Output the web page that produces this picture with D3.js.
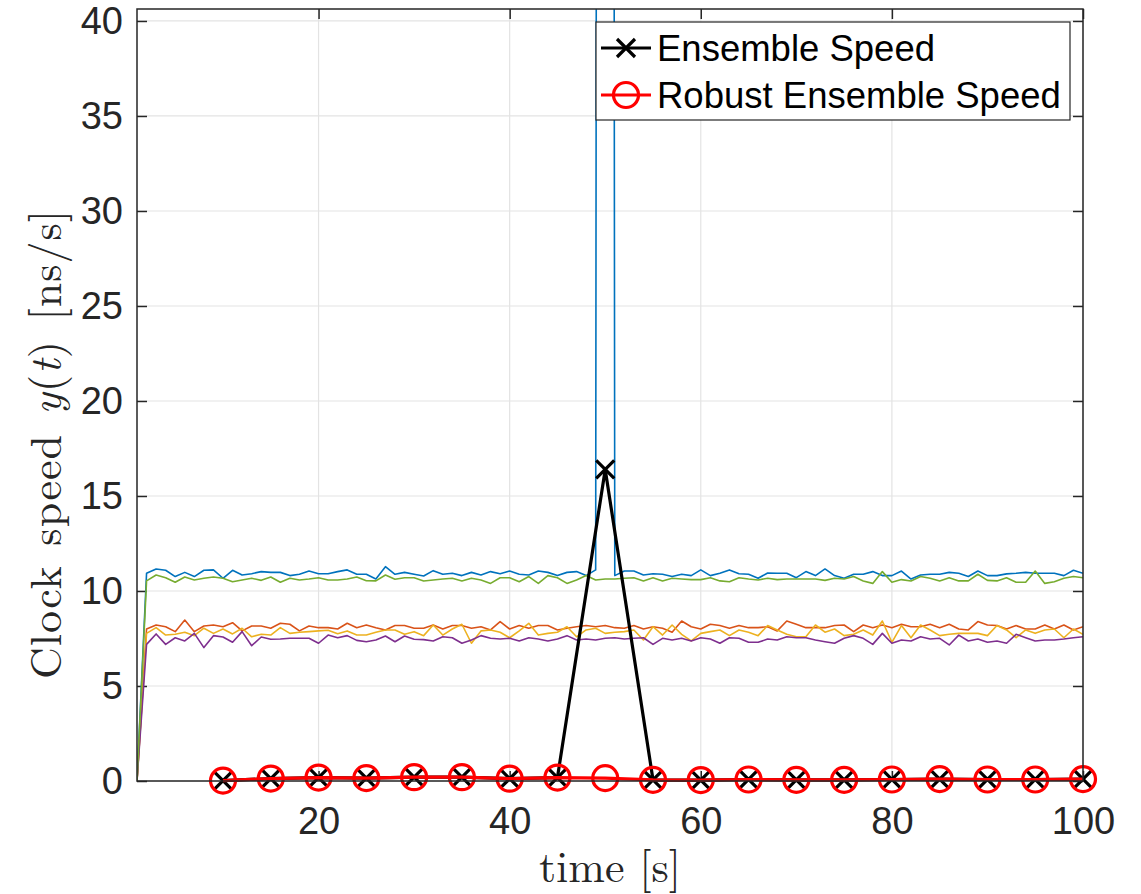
<!DOCTYPE html>
<html>
<head>
<meta charset="utf-8">
<script src="https://cdn.jsdelivr.net/npm/d3@7"></script>
<style>
  body { margin: 0; background: #ffffff; }
  svg { display: block; }
  .tick text { font-family: "Liberation Sans", Arial, Helvetica, sans-serif; fill: #262626; }
</style>
</head>
<body>
<svg id="chart" width="1141" height="894"></svg>
<script>
// Sample instants of the five clocks (one reading per second)
const time = d3.range(1, 101);

// Clock speed of each clock [ns/s]
const clockBlue = [0,
  10.93, 11.16, 11.09, 10.76, 10.98, 10.76, 11.09, 11.11, 10.67, 11.09,
  10.84, 10.91, 11.02, 10.98, 10.98, 10.81, 10.88, 11.05, 10.91, 10.91,
  11.02, 11.11, 10.88, 10.88, 10.63, 11.28, 10.88, 10.98, 10.88, 10.79,
  11.07, 10.88, 10.93, 10.81, 10.98, 10.84, 11.02, 10.91, 11.05, 10.88,
  10.84, 11.05, 10.98, 10.81, 10.98, 11.02, 10.81, 11.11, 500.0, 10.81,
  11.05, 11.05, 10.84, 10.91, 10.88, 10.76, 10.88, 10.81, 11.11, 10.81,
  10.93, 11.11, 10.91, 10.88, 10.67, 10.95, 10.93, 10.93, 10.70, 11.02,
  10.81, 11.16, 10.81, 10.67, 10.88, 10.88, 11.02, 10.81, 10.81, 11.05,
  10.63, 10.84, 10.88, 10.88, 10.98, 10.93, 10.76, 11.05, 10.81, 10.81,
  10.90, 10.93, 10.98, 10.93, 10.93, 10.93, 10.81, 11.09, 10.93];

const clockOrange = [0,
  8.00, 8.21, 8.12, 7.86, 8.47, 7.86, 8.16, 8.21, 8.12, 8.33,
  7.90, 8.16, 8.16, 8.04, 8.30, 8.25, 7.90, 8.16, 8.07, 8.07,
  8.00, 8.30, 8.07, 8.21, 8.07, 7.95, 8.18, 8.18, 8.04, 8.04,
  8.21, 8.00, 8.18, 8.18, 8.04, 8.12, 7.95, 8.39, 8.00, 8.18,
  8.04, 8.18, 8.18, 7.95, 8.04, 8.12, 8.18, 8.12, 8.18, 8.07,
  8.04, 8.18, 8.00, 8.12, 8.04, 7.83, 8.42, 8.12, 8.00, 8.25,
  8.18, 8.04, 8.18, 8.07, 8.07, 8.12, 7.90, 8.42, 8.25, 8.07,
  8.07, 8.07, 8.18, 8.21, 7.86, 8.21, 8.07, 8.21, 8.07, 8.25,
  8.12, 8.12, 8.25, 8.07, 8.25, 8.00, 7.95, 8.39, 8.21, 8.18,
  8.00, 8.18, 8.00, 8.00, 8.21, 8.00, 8.21, 7.95, 8.12];

const clockYellow = [0,
  7.77, 8.07, 7.68, 7.72, 7.83, 7.65, 8.04, 7.77, 8.00, 7.74,
  8.04, 7.59, 7.72, 7.68, 8.07, 7.77, 7.83, 7.86, 7.90, 7.93,
  7.75, 7.90, 7.68, 7.68, 7.83, 7.95, 7.95, 7.72, 7.86, 7.65,
  8.21, 7.68, 8.00, 8.25, 7.25, 7.90, 7.95, 7.83, 7.54, 7.90,
  8.30, 7.68, 7.77, 7.83, 8.12, 7.59, 7.95, 8.04, 7.77, 7.83,
  7.86, 7.95, 7.42, 8.12, 7.68, 8.21, 7.72, 7.37, 7.77, 7.86,
  7.95, 7.65, 7.95, 7.83, 7.65, 8.18, 7.95, 7.72, 7.59, 7.59,
  8.21, 7.83, 8.00, 7.65, 7.72, 7.95, 7.68, 8.42, 7.30, 8.18,
  7.54, 8.21, 7.95, 7.65, 7.72, 7.77, 7.77, 7.77, 7.65, 8.18,
  7.95, 7.54, 7.95, 7.77, 7.95, 8.00, 7.54, 8.00, 7.72];

const clockPurple = [0,
  7.19, 7.74, 7.19, 7.54, 7.37, 7.77, 7.02, 7.65, 7.58, 7.30,
  7.86, 7.12, 7.58, 7.46, 7.47, 7.51, 7.51, 7.51, 7.25, 7.68,
  7.54, 7.65, 7.40, 7.33, 7.42, 7.63, 7.33, 7.63, 7.46, 7.44,
  7.37, 7.59, 7.54, 7.25, 7.42, 7.65, 7.51, 7.47, 7.51, 7.37,
  7.54, 7.47, 7.37, 7.47, 7.65, 7.42, 7.47, 7.42, 7.51, 7.54,
  7.47, 7.51, 7.54, 7.19, 7.51, 7.42, 7.51, 7.37, 7.54, 7.47,
  7.25, 7.54, 7.51, 7.30, 7.30, 7.47, 7.42, 7.59, 7.54, 7.54,
  7.42, 7.33, 7.25, 7.51, 7.65, 7.51, 7.19, 7.77, 7.25, 7.42,
  7.37, 7.59, 7.47, 7.51, 7.16, 7.68, 7.37, 7.47, 7.30, 7.37,
  7.25, 7.72, 7.54, 7.37, 7.42, 7.42, 7.47, 7.54, 7.59];

const clockGreen = [0,
  10.53, 10.84, 10.70, 10.46, 10.74, 10.58, 10.67, 10.74, 10.67, 10.49,
  10.58, 10.67, 10.56, 10.74, 10.46, 10.67, 10.58, 10.63, 10.70, 10.58,
  10.58, 10.63, 10.74, 10.54, 10.53, 10.84, 10.62, 10.70, 10.70, 10.53,
  10.58, 10.63, 10.67, 10.53, 10.67, 10.58, 10.40, 10.70, 10.70, 10.49,
  10.76, 10.40, 10.81, 10.70, 10.40, 10.58, 10.81, 10.58, 10.63, 10.63,
  10.67, 10.70, 10.53, 10.70, 10.53, 10.67, 10.63, 10.60, 10.60, 10.70,
  10.53, 10.49, 10.70, 10.63, 10.58, 10.67, 10.60, 10.63, 10.63, 10.63,
  10.63, 10.56, 10.67, 10.63, 10.76, 10.53, 10.40, 11.02, 10.46, 10.60,
  10.53, 10.76, 10.67, 10.53, 10.70, 10.53, 10.53, 10.88, 10.56, 10.53,
  10.70, 10.46, 10.46, 11.05, 10.40, 10.49, 10.67, 10.76, 10.70];

// Ensemble estimates, every 5 s
const ensembleTime = d3.range(10, 101, 5);
const ensembleSpeed = [0.02, 0.13, 0.18, 0.15, 0.20, 0.20, 0.12, 0.18, 16.40, 0.06,
                       0.05, 0.08, 0.06, 0.06, 0.08, 0.10, 0.08, 0.08, 0.10];
const robustSpeed   = [0.02, 0.13, 0.18, 0.15, 0.20, 0.20, 0.12, 0.18, 0.15, 0.06,
                       0.05, 0.08, 0.06, 0.06, 0.08, 0.10, 0.08, 0.08, 0.10];

const xTicks = [20, 40, 60, 80, 100];
const yTicks = [0, 5, 10, 15, 20, 25, 30, 35, 40];

const clockSeries = [
  { values: clockBlue,   color: "#0072BD" },
  { values: clockOrange, color: "#D95319" },
  { values: clockYellow, color: "#EDB120" },
  { values: clockPurple, color: "#7E2F8E" },
  { values: clockGreen,  color: "#77AC30" }
];

// ---- layout ----
const svg = d3.select("#chart");
const box = { left: 137, right: 1083, top: 9, bottom: 781 };

const x = d3.scaleLinear().domain([1, 100]).range([box.left, box.right]);
const y = d3.scaleLinear().domain([0, 40.63]).range([box.bottom, box.top]);

const axisColor = "#262626";

svg.append("defs").append("clipPath").attr("id", "plot-clip")
  .append("rect")
  .attr("x", box.left).attr("y", box.top)
  .attr("width", box.right - box.left).attr("height", box.bottom - box.top);

// grid
const grid = svg.append("g").attr("stroke", "#e3e3e3").attr("stroke-width", 1.2);
grid.selectAll("line.gx").data(xTicks).join("line")
  .attr("x1", d => x(d)).attr("x2", d => x(d))
  .attr("y1", box.top).attr("y2", box.bottom);
grid.selectAll("line.gy").data(yTicks).join("line")
  .attr("x1", box.left).attr("x2", box.right)
  .attr("y1", d => y(d)).attr("y2", d => y(d));

// axes with inward ticks
function styleAxis(g) {
  g.select(".domain").remove();
  g.selectAll(".tick line").attr("stroke", axisColor).attr("stroke-width", 1.5);
  g.selectAll(".tick text").attr("font-size", 38).attr("fill", axisColor);
}

svg.append("g").attr("transform", `translate(0,${box.bottom})`)
  .call(d3.axisBottom(x).tickValues(xTicks).tickSize(-10).tickPadding(26))
  .call(styleAxis);
svg.append("g").attr("transform", `translate(0,${box.top})`)
  .call(d3.axisTop(x).tickValues(xTicks).tickSize(-10).tickFormat(""))
  .call(styleAxis);
svg.append("g").attr("transform", `translate(${box.left},0)`)
  .call(d3.axisLeft(y).tickValues(yTicks).tickSize(-10).tickPadding(14))
  .call(styleAxis);
svg.append("g").attr("transform", `translate(${box.right},0)`)
  .call(d3.axisRight(y).tickValues(yTicks).tickSize(-10).tickFormat(""))
  .call(styleAxis);

// clock traces
const plot = svg.append("g").attr("clip-path", "url(#plot-clip)");
const clockLine = d3.line().x((d, i) => x(time[i])).y(d => y(d));
plot.selectAll("path.clock").data(clockSeries).join("path")
  .attr("class", "clock")
  .attr("fill", "none")
  .attr("stroke", d => d.color)
  .attr("stroke-width", 1.6)
  .attr("stroke-linejoin", "round")
  .attr("d", d => clockLine(d.values));

// ensemble speed (black, x markers)
const ensLine = d3.line().x((d, i) => x(ensembleTime[i])).y(d => y(d));
svg.append("path")
  .attr("fill", "none").attr("stroke", "#000").attr("stroke-width", 3.2)
  .attr("d", ensLine(ensembleSpeed));

const crossPath = s => `M${-s},${-s}L${s},${s}M${-s},${s}L${s},${-s}`;
svg.append("g").selectAll("path").data(ensembleSpeed).join("path")
  .attr("transform", (d, i) => `translate(${x(ensembleTime[i])},${y(d)})`)
  .attr("d", crossPath(9))
  .attr("stroke", "#000").attr("stroke-width", 3.2).attr("fill", "none");

// robust ensemble speed (red, circle markers)
svg.append("path")
  .attr("fill", "none").attr("stroke", "#FF0000").attr("stroke-width", 3.2)
  .attr("d", ensLine(robustSpeed));
svg.append("g").selectAll("circle").data(robustSpeed).join("circle")
  .attr("cx", (d, i) => x(ensembleTime[i]))
  .attr("cy", d => y(d))
  .attr("r", 12.5)
  .attr("fill", "none").attr("stroke", "#FF0000").attr("stroke-width", 3.2);

// axes box
svg.append("rect")
  .attr("x", box.left).attr("y", box.top)
  .attr("width", box.right - box.left).attr("height", box.bottom - box.top)
  .attr("fill", "none").attr("stroke", axisColor).attr("stroke-width", 1.5);

// axis labels
svg.append("text")
  .attr("x", (box.left + box.right) / 2).attr("y", 882)
  .attr("text-anchor", "middle")
  .attr("font-family", "'Latin Modern Roman','CMU Serif','Liberation Serif',serif")
  .attr("font-size", 44).attr("fill", axisColor)
  .text("time [s]");

const yl = svg.append("text")
  .attr("transform", "translate(61,444) rotate(-90)")
  .attr("text-anchor", "middle")
  .attr("font-family", "'Latin Modern Roman','CMU Serif','Liberation Serif',serif")
  .attr("font-size", 44).attr("fill", axisColor)
  .attr("letter-spacing", 1).attr("word-spacing", 4);
yl.append("tspan").text("Clock speed ");
yl.append("tspan").attr("font-style", "italic").text("y");
yl.append("tspan").text("(");
yl.append("tspan").attr("font-style", "italic").text("t");
yl.append("tspan").text(") [ns/s]");

// legend
const legend = svg.append("g");
legend.append("rect")
  .attr("x", 596).attr("y", 22).attr("width", 474).attr("height", 98)
  .attr("fill", "#fff").attr("stroke", axisColor).attr("stroke-width", 1.2);

const legendItems = [
  { label: "Ensemble Speed", color: "#000", marker: "cross", cy: 48 },
  { label: "Robust Ensemble Speed", color: "#FF0000", marker: "circle", cy: 95 }
];
legendItems.forEach(item => {
  legend.append("line")
    .attr("x1", 601).attr("x2", 651).attr("y1", item.cy).attr("y2", item.cy)
    .attr("stroke", item.color).attr("stroke-width", 3.2);
  if (item.marker === "cross") {
    legend.append("path").attr("transform", `translate(626,${item.cy})`)
      .attr("d", crossPath(9)).attr("stroke", item.color)
      .attr("stroke-width", 3.2).attr("fill", "none");
  } else {
    legend.append("circle").attr("cx", 626).attr("cy", item.cy).attr("r", 12.5)
      .attr("fill", "none").attr("stroke", item.color).attr("stroke-width", 3.2);
  }
  legend.append("text")
    .attr("x", 657).attr("y", item.cy + 13)
    .attr("font-family", "'Liberation Sans', Arial, Helvetica, sans-serif")
    .attr("font-size", 36.5).attr("fill", "#000")
    .text(item.label);
});
</script>
</body>
</html>
